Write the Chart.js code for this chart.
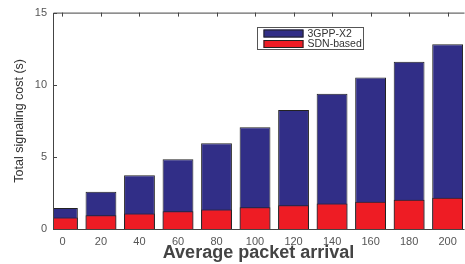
<!DOCTYPE html>
<html>
<head>
<meta charset="utf-8">
<script src="https://cdn.jsdelivr.net/npm/chart.js@4/dist/chart.umd.min.js"></script>
<style>
  html, body { margin: 0; padding: 0; background: #fff; }
  #wrap { width: 465px; height: 264px; }
</style>
</head>
<body>
<div id="wrap"><canvas id="chart"></canvas></div>
<script>
// data
const arrivals = [0, 20, 40, 60, 80, 100, 120, 140, 160, 180, 200];
const x2Cost = [1.45, 2.58, 3.72, 4.84, 5.95, 7.05, 8.25, 9.38, 10.5, 11.6, 12.8];
const sdnCost = [0.8, 0.95, 1.08, 1.23, 1.36, 1.5, 1.64, 1.76, 1.89, 2.03, 2.16];
const yTicks = [0, 5, 10, 15];
const seriesNames = ["3GPP-X2", "SDN-based"];
const seriesColors = ["#312e87", "#ee1c24"];

const axisColor = "#444";
const fontFam = "'Liberation Sans', Arial, sans-serif";

// box around the plot + inward ticks, like matlab
const boxPlugin = {
    id: "box",
    afterDatasetsDraw(chart) {
        const ctx = chart.ctx;
        const a = chart.chartArea;
        const xs = chart.scales.x, ys = chart.scales.y;
        ctx.save();
        ctx.strokeStyle = axisColor;
        ctx.lineWidth = 1;
        ctx.beginPath();
        ctx.moveTo(a.left + 0.5, a.bottom + 0.5);
        ctx.lineTo(a.left + 0.5, a.top + 0.5);
        ctx.lineTo(a.right + 0.5, a.top + 0.5);
        ctx.moveTo(a.left + 0.5, a.bottom + 0.5);
        ctx.lineTo(a.right + 0.5, a.bottom + 0.5);
        arrivals.forEach(v => {
            const px = Math.round(xs.getPixelForValue(v)) + 0.5;
            ctx.moveTo(px, a.top);
            ctx.lineTo(px, a.top + 4);
        });
        yTicks.forEach(v => {
            const py = Math.round(ys.getPixelForValue(v)) + 0.5;
            ctx.moveTo(a.left, py);
            ctx.lineTo(a.left + 4, py);
        });
        ctx.stroke();
        ctx.restore();
    },
    afterDraw(chart) {
        // legend box inside the plot
        const ctx = chart.ctx;
        const bx = 257.5, by = 27.5, bw = 106, bh = 22;
        ctx.save();
        ctx.fillStyle = "#fff";
        ctx.fillRect(bx, by, bw, bh);
        ctx.strokeStyle = "#555";
        ctx.lineWidth = 1;
        ctx.strokeRect(bx, by, bw, bh);
        ctx.font = "10.5px " + fontFam;
        ctx.textBaseline = "middle";
        seriesNames.forEach((name, i) => {
            const cy = by + 6 + i * 10.5;
            ctx.fillStyle = seriesColors[i];
            ctx.fillRect(bx + 6, cy - 4, 40, 8);
            ctx.strokeStyle = "#222";
            ctx.strokeRect(bx + 6.5, cy - 3.5, 39, 7);
            ctx.fillStyle = "#333";
            ctx.fillText(name, bx + 50, cy + 0.5);
        });
        ctx.restore();
    }
};

const ctx = document.getElementById("chart").getContext("2d");
new Chart(ctx, {
    type: "bar",
    data: {
        datasets: [
            {
                label: seriesNames[0],
                data: arrivals.map((v, i) => ({ x: v, y: x2Cost[i] })),
                backgroundColor: seriesColors[0],
                borderColor: "#222",
                borderWidth: 1,
                order: 2,
                clip: 0
            },
            {
                label: seriesNames[1],
                data: arrivals.map((v, i) => ({ x: v, y: sdnCost[i] })),
                backgroundColor: seriesColors[1],
                borderColor: "#222",
                borderWidth: 1,
                order: 1,
                clip: 0
            }
        ]
    },
    plugins: [boxPlugin],
    options: {
        responsive: true,
        maintainAspectRatio: false,
        animation: false,
        layout: { padding: { top: 12, right: 1, left: 0, bottom: 0 } },
        datasets: { bar: { grouped: false, barPercentage: 0.8, categoryPercentage: 1 } },
        plugins: { legend: { display: false }, tooltip: { enabled: false } },
        scales: {
            x: {
                type: "linear",
                offset: false,
                min: -4.9,
                max: 208.5,
                afterBuildTicks: s => { s.ticks = arrivals.map(v => ({ value: v })); },
                afterFit: s => { s.height = 35; },
                grid: { display: false, drawTicks: false },
                border: { display: false },
                ticks: {
                    color: "#555",
                    padding: 6,
                    maxRotation: 0,
                    autoSkip: false,
                    font: { family: fontFam, size: 11 }
                },
                title: {
                    display: true,
                    text: "Average packet arrival",
                    color: "#444",
                    padding: { top: 0, bottom: 0 },
                    font: { family: fontFam, size: 18, weight: "bold" }
                }
            },
            y: {
                min: 0,
                max: 15,
                afterBuildTicks: s => { s.ticks = yTicks.map(v => ({ value: v })); },
                afterFit: s => { s.width = 53; },
                grid: { display: false, drawTicks: false },
                border: { display: false },
                ticks: {
                    color: "#555",
                    padding: 6,
                    font: { family: fontFam, size: 11 }
                },
                title: {
                    display: true,
                    text: "Total signaling cost (s)",
                    color: "#333",
                    padding: { top: 12, bottom: 0 },
                    font: { family: fontFam, size: 12.5 }
                }
            }
        }
    }
});
</script>
</body>
</html>
